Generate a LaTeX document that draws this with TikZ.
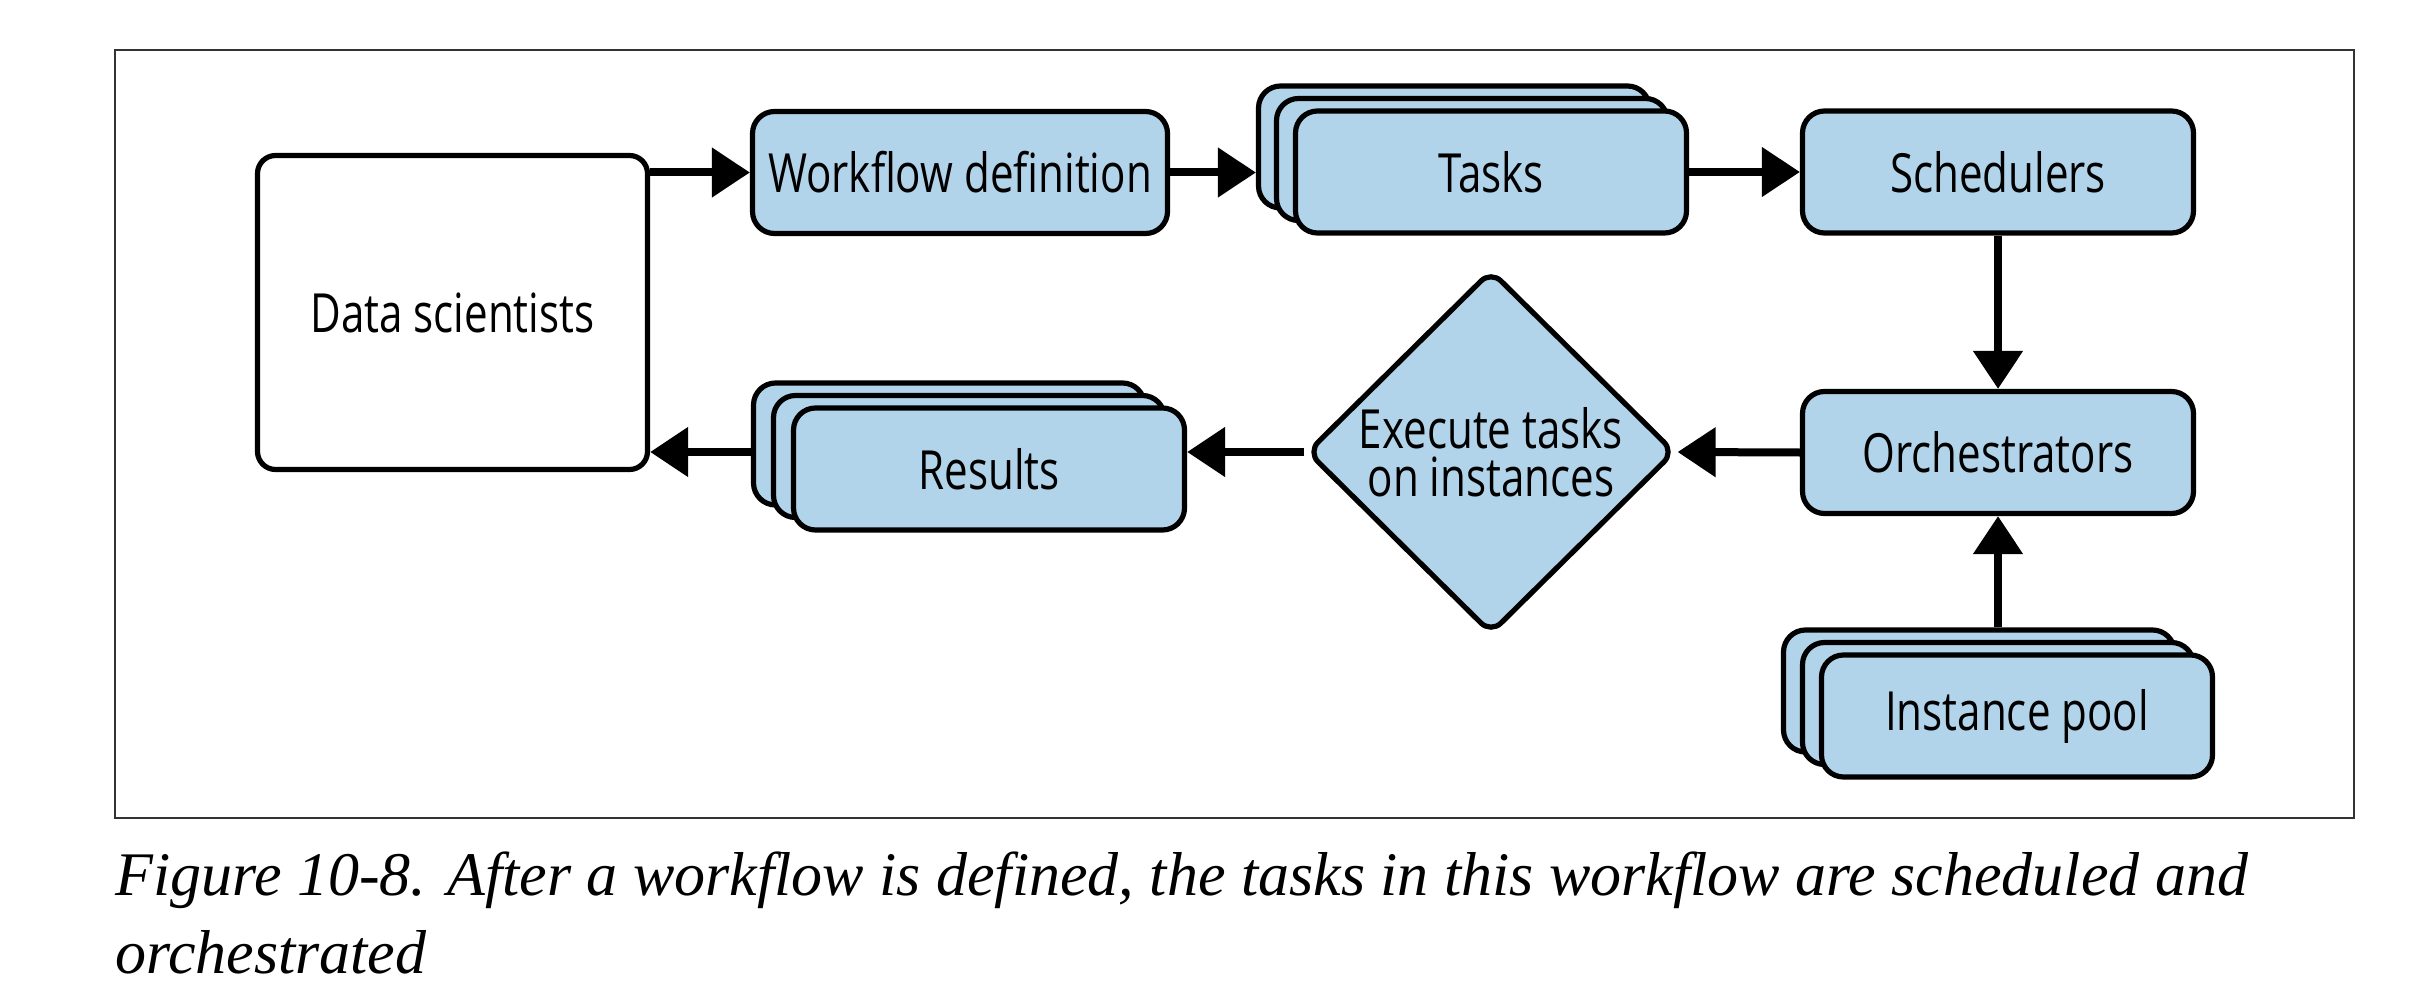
\documentclass[tikz,border=0pt]{standalone}
\usepackage{fontspec}
\setmainfont{Liberation Serif}
\newfontfamily\boxfont[FakeStretch=0.78]{Open Sans}
\usetikzlibrary{arrows.meta,shapes.geometric}
\definecolor{boxblue}{RGB}{178,212,234}
\begin{document}
\begin{tikzpicture}[x=0.5pt,y=-0.5pt,
  boxtxt/.style={font=\boxfont\fontsize{27}{24}\selectfont},
  box/.style={draw, line width=2.6pt, fill=boxblue, rounded corners=11pt,
    minimum width=195.5pt, minimum height=61pt, inner sep=0pt, boxtxt},
  arr/.style={line width=4pt, -{Triangle[length=19pt,width=24pt]}},
  captxt/.style={font=\itshape\fontsize{31}{36}\selectfont, inner sep=0pt, anchor=base west}]
\useasboundingbox (0,0) rectangle (2413,1000);
\fill[white] (0,0) rectangle (2413,1000);
\draw[line width=1pt, draw=black!80] (115,50) rectangle (2354,818);

% data scientists
\node[box, fill=white, rounded corners=9pt, minimum width=195pt, minimum height=157pt] (ds) at (452.5,312.5) {Data scientists};
% workflow definition
\node[box, minimum width=207.5pt] (wd) at (960,172.5) {Workflow definition};
% tasks stack
\node[box] (tasks3) at (1454,147) {};
\node[box] (tasks2) at (1472,159.5) {};
\node[box] (tasks) at (1491,172) {Tasks};
% schedulers / orchestrators
\node[box] (sched) at (1998,172) {Schedulers};
\node[box] (orch) at (1998,452.5) {Orchestrators};
% diamond
\node[diamond, draw, line width=2.6pt, fill=boxblue, rounded corners=7pt,
  minimum width=184pt, minimum height=182pt, inner sep=-6pt, align=center, boxtxt] (diam) at (1491,452) {Execute tasks\\on instances};
% results stack
\node[box] (res3) at (949,444) {};
\node[box] (res2) at (969,456.5) {};
\node[box] (res) at (989,469) {Results};
% instance pool stack
\node[box] (pool3) at (1979,691) {};
\node[box] (pool2) at (1998,703.5) {};
\node[box] (pool) at (2017,716) {Instance pool};

% connectors
\draw[arr] (ds.east |- wd.west) -- (wd.west);
\draw[arr] (wd.east) -- (wd.east -| tasks3.west);
\draw[arr] (tasks.east) -- (sched.west);
\draw[arr] (sched.south) -- (orch.north);
\draw[arr] (orch.west) -- (diam.east);
\draw[arr] (diam.west) -- (diam.west -| res.east);
\draw[arr] (res3.west |- diam.west) -- (ds.east |- diam.west);
\draw[arr] (orch.south |- pool3.north) -- (orch.south);

% caption
\node[captxt] (cap1) at (115,895) {Figure 10-8. After a workflow is defined, the tasks in this workflow are scheduled and};
\node[captxt] (cap2) at (115,973) {orchestrated};
\end{tikzpicture}
\end{document}
